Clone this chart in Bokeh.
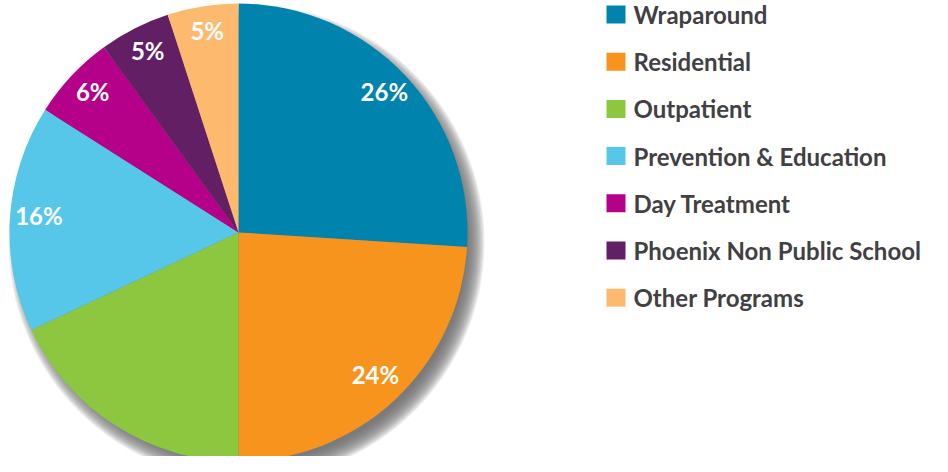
import numpy as np
from bokeh.plotting import figure
from bokeh.models import Range1d, ColumnDataSource
from bokeh.core.properties import value
from bokeh.embed import file_html
from bokeh.resources import INLINE

categories = ["Wraparound", "Residential", "Outpatient", "Prevention & Education",
              "Day Treatment", "Phoenix Non Public School", "Other Programs"]
shares = [26, 24, 18, 16, 6, 5, 5]
labels = ["26%", "24%", "", "16%", "6%", "5%", "5%"]
colors = ["#0083AD", "#F7941D", "#8DC63F", "#56C7E8", "#B5008A", "#621F64", "#FDBA6F"]

W, H = 932, 456
FONT = "Lato"
p = figure(width=W, height=H, output_backend="svg", toolbar_location=None,
           x_range=Range1d(0, W), y_range=Range1d(0, H), min_border=0)
p.axis.visible = False
p.grid.visible = False
p.outline_line_color = None
p.background_fill_color = "white"

cx, cy, R = 238, 224, 229

# drop shadow
for k in range(16):
    p.circle(x=[cx + 8], y=[cy - 10], radius=R + 9 - k * 1.2, fill_color="#6e6e6e",
             fill_alpha=0.12, line_color=None)

vals = np.array(shares, dtype=float)
frac = vals / vals.sum()
cum_end = np.cumsum(frac)
cum_start = cum_end - frac
start_angle = np.pi / 2 - cum_end * 2 * np.pi
end_angle = np.pi / 2 - cum_start * 2 * np.pi
mid = (start_angle + end_angle) / 2

src = ColumnDataSource(dict(start=start_angle, end=end_angle, color=colors,
                            lx=cx + 200 * np.cos(mid), ly=cy + 4 + 200 * np.sin(mid),
                            label=labels))
p.wedge(x=cx, y=cy, radius=R, start_angle="start", end_angle="end",
        fill_color="color", line_color=None, source=src)
p.text(x="lx", y="ly", text="label", source=src, text_color="white",
       text_font=value(FONT), text_font_style="bold", text_font_size="24px",
       text_align="center", text_baseline="middle")

# legend
idx = np.arange(len(categories))
ly = H - (14 + 47.2 * idx)
leg = ColumnDataSource(dict(y=ly, color=colors, name=categories))
p.rect(x=615.5, y="y", width=19, height=18, fill_color="color", line_color=None, source=leg)
p.text(x=633, y="y", text="name", source=leg, text_color="#414042",
       text_font=value(FONT), text_font_style="bold", text_font_size="24px",
       text_align="left", text_baseline="middle")

open("out.html", "w").write(file_html(p, INLINE))
